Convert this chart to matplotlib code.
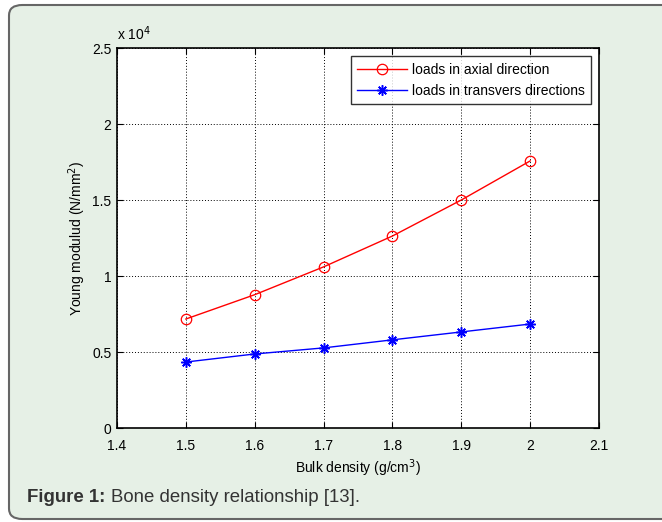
import matplotlib
matplotlib.use("Agg")
import matplotlib.pyplot as plt
from matplotlib.patches import FancyBboxPatch

plt.rcParams['font.family'] = ['Liberation Sans', 'DejaVu Sans']

# ---------------------------------------------------------------------------
# Data (values in units of 1e4 N/mm^2)
# ---------------------------------------------------------------------------
density = [1.5, 1.6, 1.7, 1.8, 1.9, 2.0]
axial = [0.717, 0.877, 1.060, 1.263, 1.500, 1.757]
transverse = [0.434, 0.487, 0.527, 0.580, 0.632, 0.684]
xticks = [1.4, 1.5, 1.6, 1.7, 1.8, 1.9, 2.0, 2.1]
yticks = [0, 0.5, 1, 1.5, 2, 2.5]

bg = "#e6f0e6"
fs = 10

fig = plt.figure(figsize=(6.62, 5.22), dpi=100)
fig.patch.set_facecolor("white")

# rounded caption frame (runs off the right edge like the source)
frame = FancyBboxPatch((9 / 662, 3 / 522), 700 / 662, 514 / 522,
                       boxstyle="round,pad=0,rounding_size=0.02",
                       transform=fig.transFigure, facecolor=bg,
                       edgecolor="#666666", linewidth=1.5, zorder=-10)
fig.patches.append(frame)

ax = fig.add_axes([117 / 662, 1 - 428 / 522, 482 / 662, 380 / 522])
ax.set_zorder(5)
ax.set_facecolor("white")

ax.plot(density, axial, color="red", linewidth=1, marker="o", markersize=7.5,
        markerfacecolor="none", markeredgecolor="red", markeredgewidth=0.9,
        label="loads in axial direction")
ax.plot(density, transverse, color="blue", linewidth=1, marker=(8, 2, 0),
        markersize=7.5, markeredgewidth=1.1, label="loads in transvers directions")

ax.set_xlim(1.4, 2.1)
ax.set_ylim(0, 2.5)
ax.set_xticks(xticks)
ax.set_xticklabels([f"{v:g}" for v in xticks])
ax.set_yticks(yticks)
ax.set_yticklabels([f"{v:g}" for v in yticks])

ax.grid(True, color="black", linestyle=(0, (1, 2)), linewidth=0.7)
ax.tick_params(direction="in", top=True, right=True, length=4,
               labelsize=fs, colors="black")
ax.tick_params(axis="x", pad=8)
ax.tick_params(axis="y", pad=4)
for spine in ax.spines.values():
    spine.set_linewidth(1.2)

ax.set_xlabel("Bulk density (g/cm$^3$)", fontsize=fs, labelpad=3)
ax.set_ylabel("Young modulud (N/mm$^2$)", fontsize=fs, labelpad=3)
ax.text(0.0, 1.012, r"x 10$^4$", transform=ax.transAxes, fontsize=fs,
        ha="left", va="bottom")

leg = ax.legend(loc="upper right", fontsize=fs, frameon=True, fancybox=False,
                edgecolor="black", borderaxespad=0.6, handlelength=3.6,
                labelspacing=0.55, borderpad=0.45, handletextpad=0.3)
leg.get_frame().set_linewidth(1.0)

fig.text(27 / 662, 1 - 497 / 522, "Figure 1:", fontsize=13.4, fontweight="bold",
         color="#333333", va="center", ha="left")
fig.text(111 / 662, 1 - 497 / 522, "Bone density relationship [13].", fontsize=13.4,
         color="#333333", va="center", ha="left")

fig.savefig("out.png", dpi=100)
